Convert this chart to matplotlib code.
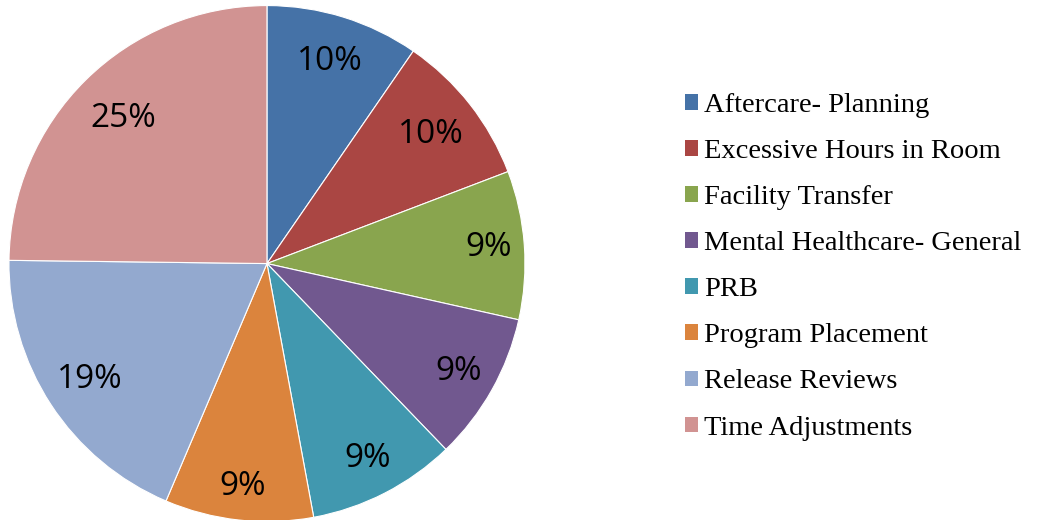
import matplotlib
matplotlib.use('Agg')
import matplotlib.pyplot as plt
from matplotlib.patches import Patch
import numpy as np

# categorias e valores (percentuais)
categorias = ['Aftercare- Planning', 'Excessive Hours in Room', 'Facility Transfer',
              'Mental Healthcare- General', 'PRB', 'Program Placement',
              'Release Reviews', 'Time Adjustments']
valores = [9.6, 9.6, 9.3, 9.3, 9.3, 9.3, 18.8, 24.8]
rotulos = ['10%', '10%', '9%', '9%', '9%', '9%', '19%', '25%']
cores = ['#4572A7', '#AA4643', '#89A54E', '#71588F',
         '#4198AF', '#DB843D', '#93A9CF', '#D19392']
# distância dos rótulos ao centro (fração do raio)
dist_rotulos = [0.82, 0.81, 0.86, 0.85, 0.85, 0.87, 0.82, 0.79]

fig = plt.figure(figsize=(10.42, 5.2), dpi=100)
ax = fig.add_axes([0.0086, -0.003, 0.4952, 0.9923])

wedges, _ = ax.pie(valores, colors=cores, startangle=90, counterclock=False,
                   wedgeprops={'edgecolor': 'white', 'linewidth': 0.8})

# rótulos de percentual
for w, txt, d in zip(wedges, rotulos, dist_rotulos):
    ang = np.deg2rad((w.theta1 + w.theta2) / 2)
    ax.text(d * np.cos(ang), d * np.sin(ang), txt, ha='center', va='center',
            fontsize=24, family='Open Sans', color='black')
ax.set_xlim(-1, 1)
ax.set_ylim(-1, 1)
ax.set_aspect('equal')

# legenda
handles = [Patch(facecolor=c, edgecolor='none') for c in cores]
fig.legend(handles, categorias, loc='center left', bbox_to_anchor=(0.6465, 0.487),
           frameon=False, prop={'family': 'Liberation Serif', 'size': 20.5},
           handlelength=0.46, handleheight=0.46, handletextpad=0.22,
           labelspacing=0.74, borderaxespad=0)

plt.savefig('out.png', dpi=100)
